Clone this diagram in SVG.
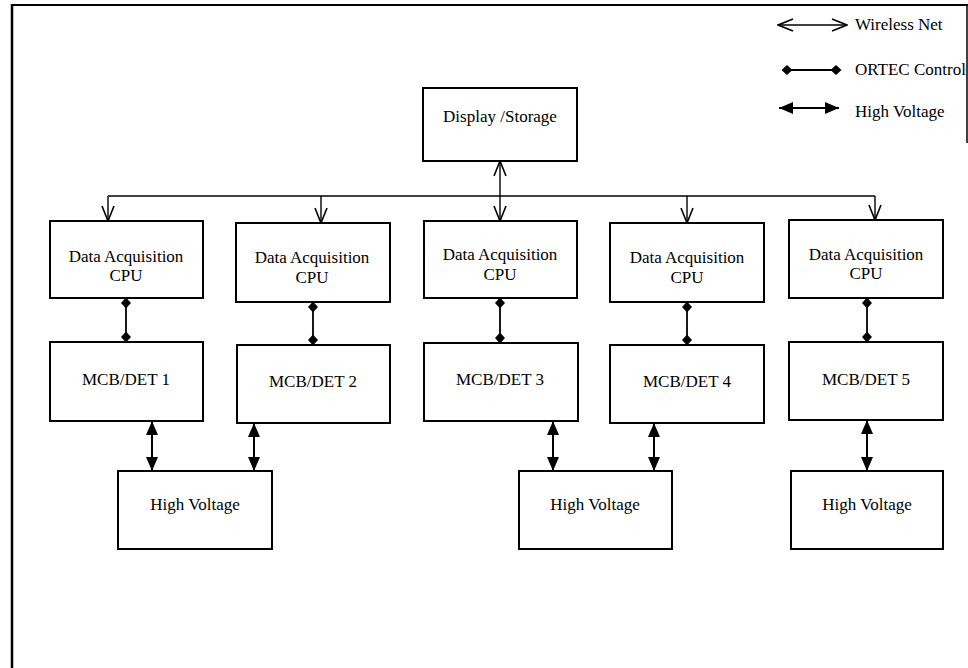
<svg xmlns="http://www.w3.org/2000/svg" width="968" height="668" viewBox="0 0 968 668">
<style>
  .box { fill: #fff; stroke: #000; stroke-width: 2; }
  .t { font-family: "Liberation Serif", "Times New Roman", serif; font-size: 17px; fill: #000; }
  .c { text-anchor: middle; }
  .wl { stroke: #000; stroke-width: 1.4; fill: none; marker-start: url(#open); marker-end: url(#open); }
  .bus { stroke: #000; stroke-width: 1.6; fill: none; }
  .wd { stroke: #000; stroke-width: 1.4; fill: none; marker-end: url(#open); }
  .oc { stroke: #000; stroke-width: 1.8; fill: none; marker-start: url(#dia); marker-end: url(#dia); }
  .hv { stroke: #000; stroke-width: 2; fill: none; marker-start: url(#tri); marker-end: url(#tri); }
  .frame { stroke: #000; fill: none; }
</style>
<defs>
  <marker id="open" markerUnits="userSpaceOnUse" markerWidth="17" markerHeight="14" viewBox="0 0 17 14" refX="16" refY="7" orient="auto-start-reverse">
    <path d="M1,1 L16,7 L1,13" fill="none" stroke="#000" stroke-width="1.6"/>
  </marker>
  <marker id="dia" markerUnits="userSpaceOnUse" markerWidth="11" markerHeight="11" viewBox="0 0 11 11" refX="5.5" refY="5.5" orient="auto">
    <path d="M0,5.5 L5.5,0.5 L11,5.5 L5.5,10.5 z" fill="#000"/>
  </marker>
  <marker id="tri" markerUnits="userSpaceOnUse" markerWidth="14" markerHeight="12" viewBox="0 0 14 12" refX="14" refY="6" orient="auto-start-reverse">
    <path d="M0,0 L14,6 L0,12 z" fill="#000"/>
  </marker>
</defs>

<g id="frame">
  <line class="frame" x1="12" y1="5" x2="968" y2="5" stroke-width="2"/>
  <line class="frame" x1="12" y1="4" x2="12" y2="668" stroke-width="2.5"/>
  <line class="frame" x1="967" y1="5" x2="967" y2="143" stroke-width="1.5"/>
</g>

<g id="legend">
  <line class="wl" x1="778" y1="25" x2="847" y2="25"/>
  <text class="t" x="855" y="30">Wireless Net</text>
  <line class="oc" x1="787" y1="70" x2="836" y2="70" style="stroke-width:2"/>
  <text class="t" x="855" y="75">ORTEC Control</text>
  <line class="hv" x1="779" y1="108" x2="839" y2="108"/>
  <text class="t" x="855" y="117">High Voltage</text>
</g>

<g id="display">
  <rect class="box" x="423" y="88" width="154" height="73"/>
  <text class="t c" x="500" y="122">Display /Storage</text>
</g>

<g id="cpu1">
  <rect class="box" x="50" y="221" width="153" height="77"/>
  <text class="t c" x="126" y="262">Data Acquisition</text>
  <text class="t c" x="126" y="281">CPU</text>
</g>
<g id="cpu2">
  <rect class="box" x="236" y="223" width="154" height="79"/>
  <text class="t c" x="312" y="263">Data Acquisition</text>
  <text class="t c" x="312" y="283">CPU</text>
</g>
<g id="cpu3">
  <rect class="box" x="424" y="221" width="153" height="77"/>
  <text class="t c" x="500" y="260">Data Acquisition</text>
  <text class="t c" x="500" y="280">CPU</text>
</g>
<g id="cpu4">
  <rect class="box" x="610" y="223" width="154" height="79"/>
  <text class="t c" x="687" y="263">Data Acquisition</text>
  <text class="t c" x="687" y="283">CPU</text>
</g>
<g id="cpu5">
  <rect class="box" x="789" y="220" width="154" height="78"/>
  <text class="t c" x="866" y="260">Data Acquisition</text>
  <text class="t c" x="866" y="279">CPU</text>
</g>

<g id="mcb1">
  <rect class="box" x="50" y="342" width="153" height="79"/>
  <text class="t c" x="126" y="385">MCB/DET 1</text>
</g>
<g id="mcb2">
  <rect class="box" x="237" y="345" width="153" height="78"/>
  <text class="t c" x="313" y="387">MCB/DET 2</text>
</g>
<g id="mcb3">
  <rect class="box" x="424" y="343" width="154" height="78"/>
  <text class="t c" x="500" y="385">MCB/DET 3</text>
</g>
<g id="mcb4">
  <rect class="box" x="610" y="345" width="154" height="78"/>
  <text class="t c" x="687" y="387">MCB/DET 4</text>
</g>
<g id="mcb5">
  <rect class="box" x="789" y="342" width="154" height="78"/>
  <text class="t c" x="866" y="385">MCB/DET 5</text>
</g>

<g id="hv1">
  <rect class="box" x="118" y="471" width="154" height="78"/>
  <text class="t c" x="195" y="510">High Voltage</text>
</g>
<g id="hv2">
  <rect class="box" x="519" y="471" width="153" height="78"/>
  <text class="t c" x="595" y="510">High Voltage</text>
</g>
<g id="hv3">
  <rect class="box" x="791" y="471" width="152" height="78"/>
  <text class="t c" x="867" y="510">High Voltage</text>
</g>

<g id="connectors">
  <polyline class="bus" points="108,196 875,196"/>
  <line class="wd" x1="108" y1="196" x2="108" y2="221"/>
  <line class="wd" x1="321" y1="196" x2="321" y2="223"/>
  <line class="wl" x1="500" y1="161" x2="500" y2="221"/>
  <line class="wd" x1="687" y1="196" x2="687" y2="223"/>
  <line class="wd" x1="875" y1="196" x2="875" y2="220"/>

  <line class="oc" x1="126" y1="303" x2="126" y2="337"/>
  <line class="oc" x1="313" y1="307" x2="313" y2="340"/>
  <line class="oc" x1="500" y1="303" x2="500" y2="338"/>
  <line class="oc" x1="687" y1="307" x2="687" y2="340"/>
  <line class="oc" x1="867" y1="303" x2="867" y2="337"/>

  <line class="hv" x1="152" y1="421" x2="152" y2="471"/>
  <line class="hv" x1="254" y1="423" x2="254" y2="471"/>
  <line class="hv" x1="553" y1="421" x2="553" y2="471"/>
  <line class="hv" x1="654" y1="423" x2="654" y2="471"/>
  <line class="hv" x1="867" y1="420" x2="867" y2="471"/>
</g>
</svg>
